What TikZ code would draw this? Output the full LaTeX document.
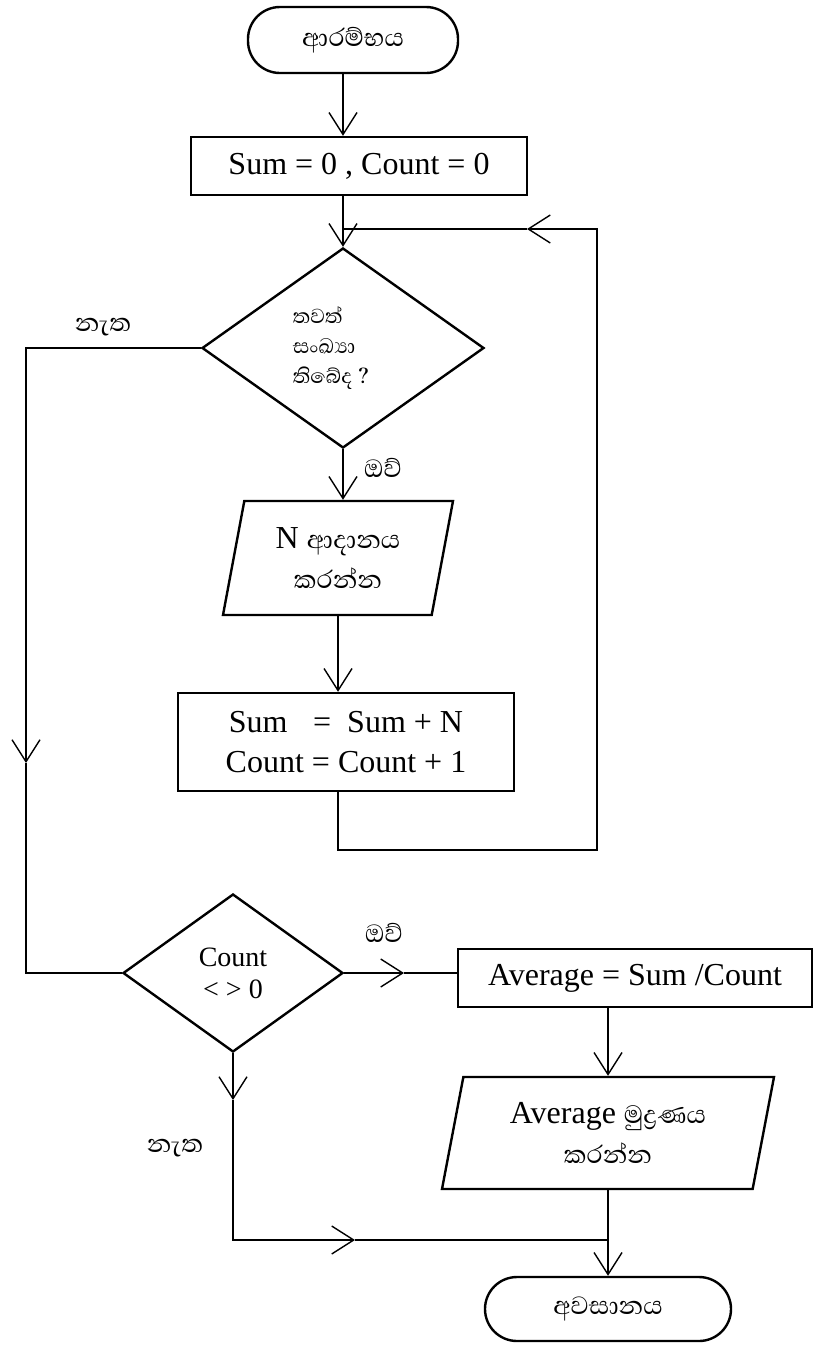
\documentclass[tikz,border=0pt]{standalone}
\usepackage{fontspec}
\setmainfont{Liberation Serif}
\newfontfamily\sinhala[Script=Sinhala]{Abhaya Libre}
\usetikzlibrary{arrows.meta}
\usetikzlibrary{positioning}
\usetikzlibrary{shapes.geometric}
\tikzset{every node/.style = {font = \fontsize{16}{20}\selectfont}}
\tikzset{terminal/.style = {draw, line width = 1.2pt, rounded corners = 16pt, minimum width = 105pt, minimum height = 33pt}}
\tikzset{box/.style = {draw, line width = 1.2pt, align = center}}
\tikzset{decision/.style = {diamond, draw, line width = 1.2pt, inner sep = 0, align = center}}
\tikzset{io/.style = {trapezium, trapezium left angle = 74, trapezium right angle = 106, trapezium stretches body, draw, line width = 1.2pt, align = center}}
\tikzset{line/.style = {line width = 0.7pt}}
\tikzset{flow/.style = {line, -{Straight Barb[length = 11pt, width = 14pt]}}}

\begin{document}
\begin{tikzpicture}[x = 0.5pt, y = -0.5pt]
  \useasboundingbox (0, 0) rectangle (815, 1345);
  % shapes
  \node [terminal] (start) at (353, 40) {\sinhala ආරම්භය};
  \node [box, minimum width = 168pt, minimum height = 29pt] (init) at (359, 166) {Sum = 0 , Count = 0};
  \node [decision, minimum width = 141pt, minimum height = 100pt, align = left, font = \sinhala\fontsize{13}{15}\selectfont] (more) at (343, 348) {තවත්\\සංඛ්‍යා\\තිබේද ?\hspace*{12pt}};
  \node [io, minimum width = 115pt, minimum height = 57pt] (input) at (338, 558) {N {\sinhala ආදානය}\\{\sinhala කරන්න}};
  \node [box, minimum width = 168pt, minimum height = 49pt] (update) at (346, 742) {Sum\hspace{0.8em}=\hspace{0.5em}Sum + N\\Count = Count + 1};
  \node [decision, minimum width = 110pt, minimum height = 79pt, font = \fontsize{14}{16}\selectfont] (check) at (233, 973) {Count\\< > 0};
  \node [box, minimum width = 177pt, minimum height = 29pt] (avg) at (635, 978) {Average = Sum /Count};
  \node [io, minimum width = 166pt, minimum height = 56pt] (output) at (608, 1133) {Average {\sinhala මුද්‍රණය}\\{\sinhala කරන්න}};
  \node [terminal, minimum width = 123pt, minimum height = 32pt] (stop) at (608, 1309) {\sinhala අවසානය};
  % labels
  \node (no1) at (103, 327) {\sinhala නැත};
  \node (yes1) at (383, 468) {\sinhala ඔව්};
  \node (yes2) at (384, 933) {\sinhala ඔව්};
  \node (no2) at (175, 1148) {\sinhala නැත};
  % turning points
  \coordinate (loopbr) at (597, 850);
  \coordinate (looptip) at (527, 229);
  \coordinate (lefttip) at (26, 763);
  \coordinate (yestip) at (404, 973);
  \coordinate (notip) at (233, 1100);
  \coordinate (jointip) at (355, 1240);
  % connectors
  \draw [flow] (start.south -| more.north) -- (more.north |- init.north);
  \draw [flow] (more.north |- init.south) -- (more.north);
  \draw [flow] (more.south) -- (more.south |- input.north);
  \draw [flow] (input.south) -- (input.south |- update.north);
  \draw [flow] (update.south -| input.south) |- (loopbr) |- (looptip);
  \draw [line] (looptip) -- (looptip -| more.north);
  \draw [flow] (more.west) -| (lefttip);
  \draw [line] (lefttip) |- (check.west);
  \draw [flow] (check.east) -- (yestip);
  \draw [line] (yestip) -- (yestip -| avg.west);
  \draw [flow] (output.north |- avg.south) -- (output.north);
  \draw [flow] (check.south) -- (notip);
  \draw [flow] (notip) |- (jointip);
  \draw [line] (jointip) -- (jointip -| output.south);
  \draw [flow] (output.south) -- (output.south |- stop.north);
\end{tikzpicture}
\end{document}
